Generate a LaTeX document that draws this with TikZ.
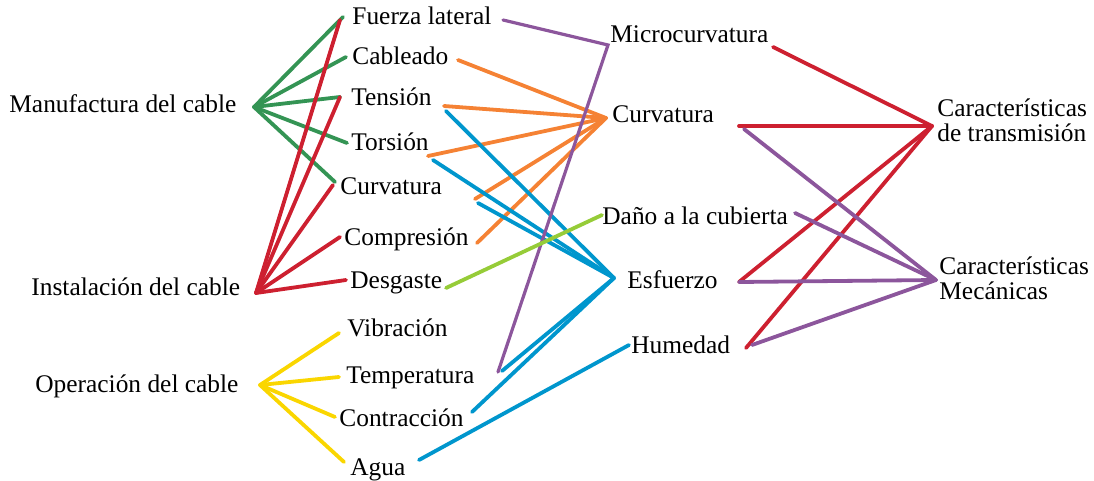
\documentclass[tikz,border=0pt]{standalone}
\usepackage{fontspec}
\setmainfont{Liberation Serif}
\definecolor{cgreen}{RGB}{52,148,84}
\definecolor{cred}{RGB}{205,32,48}
\definecolor{cyellow}{RGB}{250,214,0}
\definecolor{corange}{RGB}{245,130,52}
\definecolor{cblue}{RGB}{0,150,205}
\definecolor{cpurple}{RGB}{140,86,156}
\definecolor{clgreen}{RGB}{150,204,56}
\begin{document}
\begin{tikzpicture}[x=0.5pt,y=-0.5pt,
  lbl/.style={anchor=base west,inner sep=0pt,font=\fontsize{12.7pt}{12.5pt}\selectfont},
  lbl2/.style={anchor=west,inner sep=0pt,align=left,font=\fontsize{12.7pt}{12.6pt}\selectfont},
  conn/.style={line width=1.9pt,line cap=round},
  cg/.style={conn,draw=cgreen},
  cr/.style={conn,draw=cred},
  cy/.style={conn,draw=cyellow},
  co/.style={conn,draw=corange},
  cb/.style={conn,draw=cblue},
  cp/.style={conn,draw=cpurple,line width=1.6pt},
  cl/.style={conn,draw=clgreen}]
\useasboundingbox (0,0) rectangle (1094,481);
% left column
\node[lbl] (man) at (9,113) {Manufactura del cable};
\node[lbl] (ins) at (31,296) {Instalación del cable};
\node[lbl] (ope) at (35,393) {Operación del cable};
% middle-left column
\node[lbl] (fl) at (352,25) {Fuerza lateral};
\node[lbl] (cab) at (352,65) {Cableado};
\node[lbl] (ten) at (351,106) {Tensión};
\node[lbl] (tor) at (351,151) {Torsión};
\node[lbl] (cul) at (340,195) {Curvatura};
\node[lbl] (com) at (344,246) {Compresión};
\node[lbl] (des) at (350,288) {Desgaste};
\node[lbl] (vib) at (347,336) {Vibración};
\node[lbl] (tem) at (346,383) {Temperatura};
\node[lbl] (con) at (339,426) {Contracción};
\node[lbl] (agu) at (350,475) {Agua};
% middle-right column
\node[lbl] (mic) at (610,43) {Microcurvatura};
\node[lbl] (cum) at (612,123) {Curvatura};
\node[lbl] (dan) at (602,225) {Daño a la cubierta};
\node[lbl] (esf) at (627,288) {Esfuerzo};
\node[lbl] (hum) at (631,353) {Humedad};
% right column
\node[lbl2] (ctr) at (937,120) {Características\\de transmisión};
\node[lbl2] (cme) at (939,278) {Características\\Mecánicas};
% hubs
\coordinate (hM) at (254,107);
\coordinate (hI) at (256,293);
\coordinate (hO) at (260,385);
\coordinate (hMc) at (608,45);
\coordinate (hCm) at (606,118);
\coordinate (hE) at (614,278);
\coordinate (hCT) at (932,126);
\coordinate (hCM) at (936,280);
% endpoints
\coordinate (flL) at (343,17);
\coordinate (flLr) at (340,20);
\coordinate (flR) at (503,20);
\coordinate (cabL) at (346,57);
\coordinate (cabR) at (458,60);
\coordinate (tenL) at (340,97);
\coordinate (tenR) at (444,106);
\coordinate (tenRb) at (446,111);
\coordinate (torL) at (347,143);
\coordinate (torR) at (428,156);
\coordinate (torRb) at (433,160);
\coordinate (culL) at (335,182);
\coordinate (culLr) at (333,185);
\coordinate (culR) at (475,199);
\coordinate (culRb) at (478,203);
\coordinate (comL) at (340,237);
\coordinate (comR) at (477,243);
\coordinate (desL) at (346,280);
\coordinate (desR) at (446,288);
\coordinate (vibL) at (339,333);
\coordinate (temL) at (339,377);
\coordinate (temR) at (498,372);
\coordinate (temRb) at (502,371);
\coordinate (conL) at (335,417);
\coordinate (conR) at (472,412);
\coordinate (aguL) at (344,462);
\coordinate (aguR) at (419,460);
\coordinate (micR) at (773,47);
\coordinate (cumR) at (739,126);
\coordinate (cumRb) at (744,129);
\coordinate (danL) at (602,215);
\coordinate (danR) at (795,213);
\coordinate (esfR) at (739,282);
\coordinate (humL) at (629,345);
\coordinate (humR) at (746,348);
\coordinate (humRb) at (752,345);
% green: manufactura
\foreach \e in {flL,cabL,tenL,torL,culL} \draw[cg] (hM) -- (\e);
% red: instalacion
\foreach \e in {flLr,tenL,culLr,comL,desL} \draw[cr] (hI) -- (\e);
% yellow: operacion
\foreach \e in {vibL,temL,conL,aguL} \draw[cy] (hO) -- (\e);
% orange: curvatura
\foreach \e in {cabR,tenR,torR,culR,comR} \draw[co] (\e) -- (hCm);
% blue: esfuerzo
\foreach \e in {tenRb,torRb,culRb,temRb,conR} \draw[cb] (\e) -- (hE);
\draw[cb] (aguR) -- (humL);
% purple: microcurvatura
\draw[cp] (flR) -- (hMc) -- (temR);
% light green
\draw[cl] (desR) -- (danL);
% red: transmision
\foreach \e in {micR,cumR,esfR,humR} \draw[cr] (\e) -- (hCT);
% purple: mecanicas
\foreach \e in {cumRb,danR,esfR,humRb} \draw[cp,line width=1.9pt] (\e) -- (hCM);
\end{tikzpicture}
\end{document}
